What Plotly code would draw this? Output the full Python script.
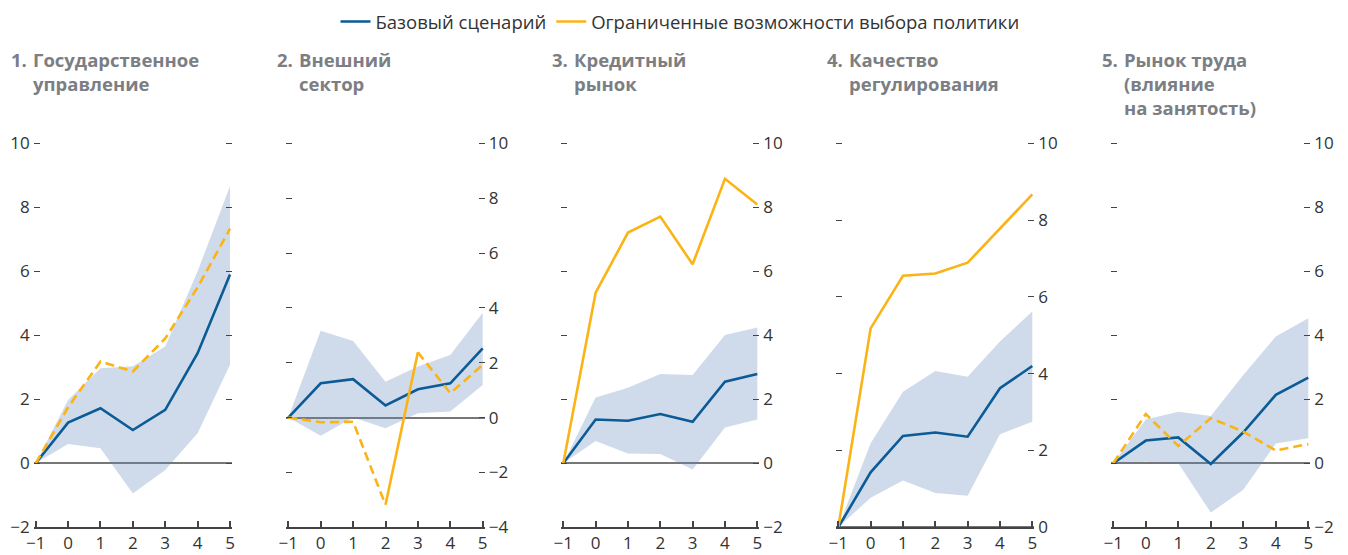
import plotly.graph_objects as go

# ---------------- data ----------------
x_vals = [-1, 0, 1, 2, 3, 4, 5]

title_nums = ["1.", "2.", "3.", "4.", "5."]
title_lines = [
    ["Государственное", "управление"],
    ["Внешний", "сектор"],
    ["Кредитный", "рынок"],
    ["Качество", "регулирования"],
    ["Рынок труда", "(влияние", "на занятость)"],
]
legend_names = ["Базовый сценарий", "Ограниченные возможности выбора политики"]

base_1 = [0, 1.27, 1.72, 1.04, 1.67, 3.44, 5.90]
base_2 = [0, 1.25, 1.40, 0.44, 1.03, 1.25, 2.52]
base_3 = [0, 1.37, 1.33, 1.54, 1.30, 2.55, 2.79]
base_4 = [0, 1.43, 2.38, 2.47, 2.36, 3.62, 4.20]
base_5 = [0, 0.71, 0.81, -0.02, 0.97, 2.14, 2.68]

alt_1 = [0, 1.75, 3.18, 2.87, 3.90, 5.50, 7.33]
alt_2 = [0, -0.17, -0.15, -3.18, 2.38, 0.89, 1.92]
alt_3 = [0, 5.33, 7.21, 7.71, 6.22, 8.89, 8.09]
alt_4 = [0, 5.18, 6.55, 6.61, 6.89, 7.79, 8.67]
alt_5 = [0, 1.54, 0.54, 1.41, 0.99, 0.40, 0.60]

band_hi_1 = [0, 1.98, 2.97, 3.03, 3.65, 6.00, 8.66]
band_lo_1 = [0, 0.60, 0.47, -0.94, -0.21, 0.94, 3.08]
band_hi_2 = [0, 3.17, 2.79, 1.31, 1.86, 2.28, 3.82]
band_lo_2 = [0, -0.66, 0.00, -0.39, 0.16, 0.22, 1.19]
band_hi_3 = [0, 2.06, 2.36, 2.79, 2.76, 4.01, 4.24]
band_lo_3 = [0, 0.70, 0.31, 0.29, -0.19, 1.12, 1.37]
band_hi_4 = [0, 2.19, 3.53, 4.07, 3.92, 4.84, 5.62]
band_lo_4 = [0, 0.77, 1.22, 0.89, 0.82, 2.42, 2.75]
band_hi_5 = [0, 1.37, 1.61, 1.48, 2.76, 3.96, 4.53]
band_lo_5 = [0, 0.05, 0.00, -1.54, -0.83, 0.62, 0.78]

y_ranges = [[-2, 10], [-4, 10], [-2, 10], [0, 10], [-2, 10]]
x_range = [-1, 5]

# ---------------- styles ----------------
BLUE = "#0b5b97"
YELLOW = "#fbb316"
BAND = "rgba(95,135,185,0.30)"
TXT = "#333333"
TITLE = "#7b7e83"
FONT = "'Open Sans', sans-serif"
DASH = "9px,5px"

# dash style of each yellow segment (between consecutive points)
seg_styles = [
    ["dash"] * 6,
    ["dash", "dash", "dash", "solid", "dash", "dash"],
    ["solid"] * 6,
    ["solid"] * 6,
    ["dash"] * 6,
]

# the page body has an 8 px margin: positions below are page pixels, shifted by OFF
OFF = 8
W, H = 1340, 547
x_dom_px = [(35.7, 230.0), (288.3, 482.7), (563.3, 757.3), (838.3, 1032.3), (1113.3, 1308.3)]
y_dom_px = (527.3, 143.3)
PAD = 2.0  # px of extra room so that end ticks are not clipped by plotly
title_x_px = [10, 276, 551, 826, 1101]
title_top_px = 46
y_sides = ["left", "right", "right", "right", "right"]


def px_x(p):
    return (p - OFF) / W


def px_y(p):
    return 1 - (p - OFF) / H


bases = [base_1, base_2, base_3, base_4, base_5]
alts = [alt_1, alt_2, alt_3, alt_4, alt_5]
his = [band_hi_1, band_hi_2, band_hi_3, band_hi_4, band_hi_5]
los = [band_lo_1, band_lo_2, band_lo_3, band_lo_4, band_lo_5]

fig = go.Figure()
for i in range(5):
    xa = "x" if i == 0 else f"x{i+1}"
    ya = "y" if i == 0 else f"y{i+1}"
    fig.add_trace(go.Scatter(x=x_vals, y=los[i], mode="lines", line=dict(width=0),
                             xaxis=xa, yaxis=ya, showlegend=False, hoverinfo="skip"))
    fig.add_trace(go.Scatter(x=x_vals, y=his[i], mode="lines", line=dict(width=0),
                             fill="tonexty", fillcolor=BAND,
                             xaxis=xa, yaxis=ya, showlegend=False, hoverinfo="skip"))
    fig.add_trace(go.Scatter(x=x_vals, y=bases[i], mode="lines",
                             line=dict(color=BLUE, width=2.6),
                             name=legend_names[0], legendrank=1,
                             showlegend=(i == 0), xaxis=xa, yaxis=ya))
    # yellow series split into runs of equal dash style
    styles = seg_styles[i]
    start = 0
    for k in range(1, len(styles) + 1):
        if k == len(styles) or styles[k] != styles[start]:
            st = styles[start]
            show = (i == 2 and start == 0)
            fig.add_trace(go.Scatter(
                x=x_vals[start:k + 1], y=alts[i][start:k + 1], mode="lines",
                line=dict(color=YELLOW, width=2.6, dash=(DASH if st == "dash" else "solid")),
                name=legend_names[1], legendrank=2, showlegend=show,
                xaxis=xa, yaxis=ya))
            start = k

    x0p, x1p = x_dom_px[i]
    sx = (x1p - x0p) / (x_range[1] - x_range[0])
    y0p, y1p = y_dom_px
    sy = (y0p - y1p) / (y_ranges[i][1] - y_ranges[i][0])
    fig.update_layout(**{
        ("xaxis" if i == 0 else f"xaxis{i+1}"): dict(
            domain=[px_x(x0p - PAD), px_x(x1p + PAD)], anchor=ya,
            range=[x_range[0] - PAD / sx, x_range[1] + PAD / sx], tick0=-1, dtick=1,
            showline=True, linecolor="#444444", linewidth=1.5,
            ticks="inside", ticklen=7, tickwidth=1.5, tickcolor="#444444",
            showgrid=False, zeroline=False, automargin=False,
            tickfont=dict(family=FONT, size=17, color=TXT),
        ),
        ("yaxis" if i == 0 else f"yaxis{i+1}"): dict(
            domain=[px_y(y0p), px_y(y1p - PAD)], anchor=xa,
            range=[y_ranges[i][0], y_ranges[i][1] + PAD / sy], dtick=2, tick0=0,
            side=y_sides[i], ticks="inside", ticklen=6, tickwidth=1.2,
            tickcolor="#444444", mirror="ticks", showline=False,
            showgrid=False, zeroline=True, zerolinecolor="#777777", zerolinewidth=1.5,
            automargin=False, ticklabelstandoff=3,
            tickfont=dict(family=FONT, size=17, color=TXT),
        ),
    })
    fig.add_annotation(x=px_x(title_x_px[i]), y=px_y(title_top_px),
                       xref="paper", yref="paper", xanchor="left", yanchor="top",
                       showarrow=False, text="<b>" + title_nums[i] + "</b>",
                       width=18, align="left", borderpad=0,
                       font=dict(family=FONT, size=18.5, color=TITLE))
    fig.add_annotation(x=px_x(title_x_px[i] + 22), y=px_y(title_top_px),
                       xref="paper", yref="paper", xanchor="left", yanchor="top",
                       showarrow=False, align="left", borderpad=0,
                       text="<br>".join("<b>" + s + "</b>" for s in title_lines[i]),
                       font=dict(family=FONT, size=18.5, color=TITLE))

fig.update_layout(
    template="none",
    width=W, height=H,
    margin=dict(l=0, r=0, t=0, b=0, autoexpand=False),
    paper_bgcolor="white", plot_bgcolor="white",
    font=dict(family=FONT, color=TXT),
    legend=dict(orientation="h", x=px_x(680), xanchor="center", y=px_y(22), yanchor="middle",
                traceorder="normal",
                font=dict(family=FONT, size=18.5, color=TXT), itemwidth=30,
                bgcolor="rgba(0,0,0,0)"),
)

fig.write_html("out.html")
